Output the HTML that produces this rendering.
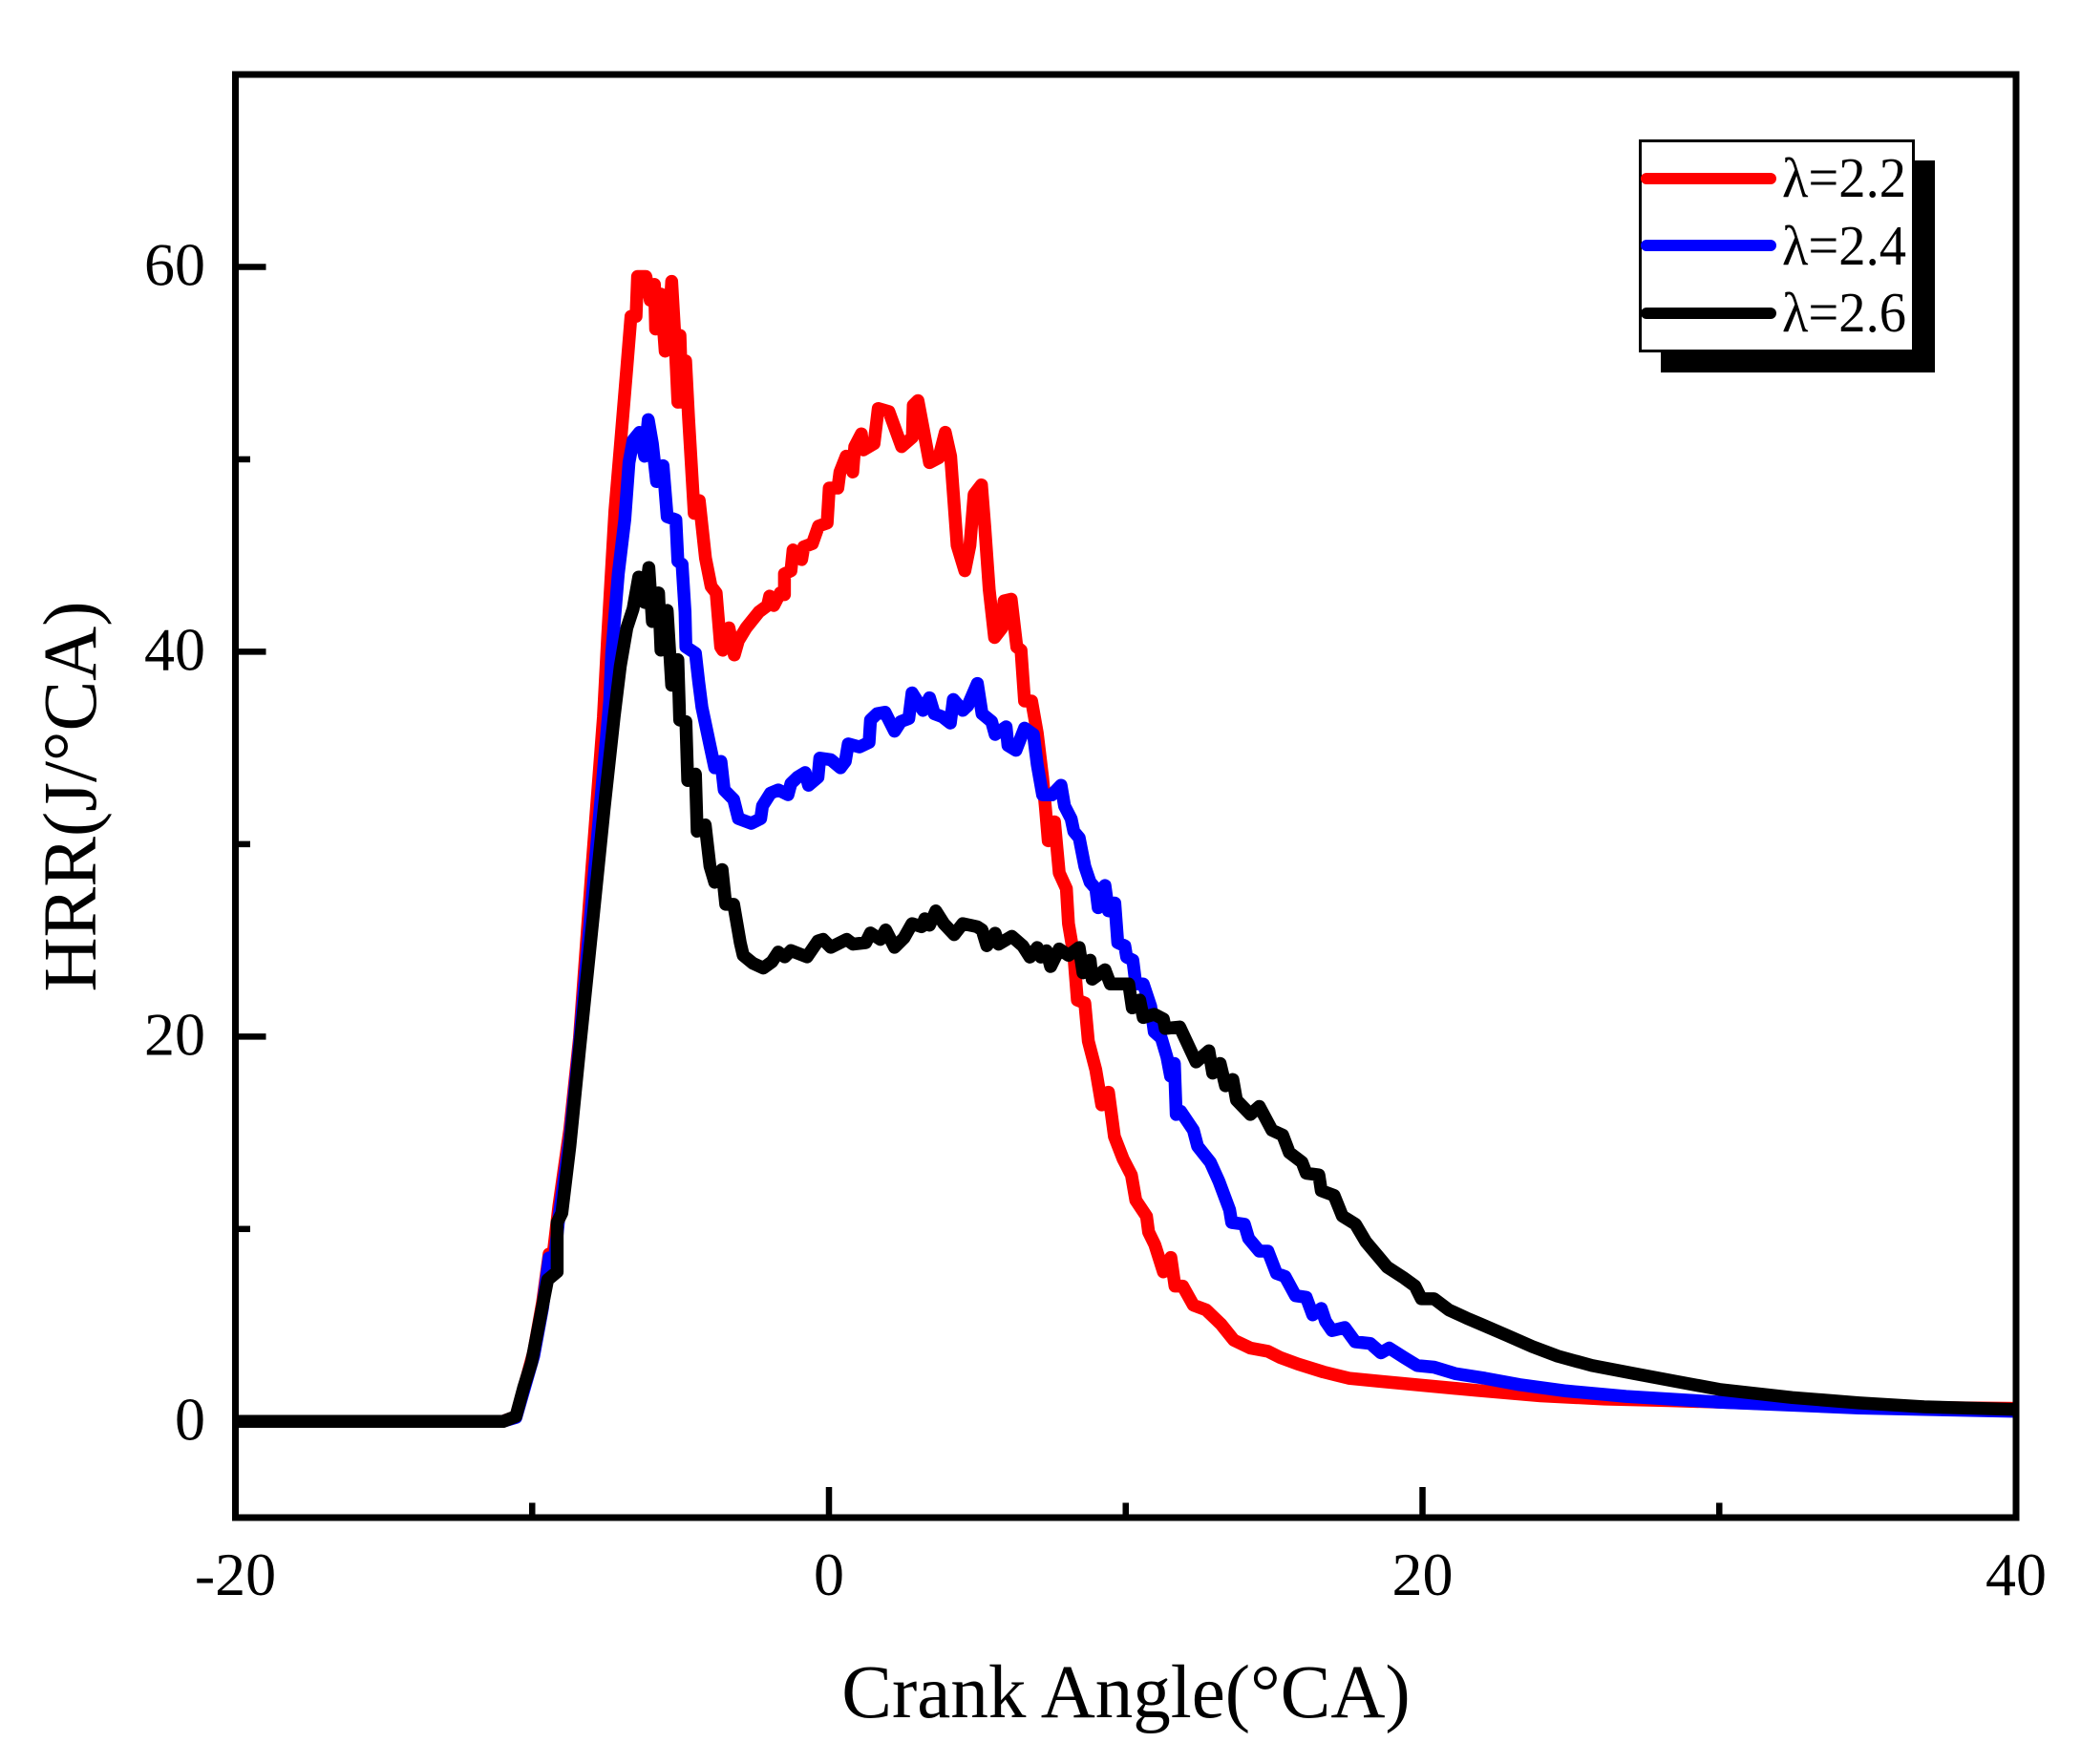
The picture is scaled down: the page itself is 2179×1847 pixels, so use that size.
<!DOCTYPE html>
<html lang="en">
<head>
<meta charset="utf-8">
<title>HRR vs Crank Angle</title>
<style>
html,body{margin:0;padding:0;background:#fff;}
svg{display:block;font-family:"Liberation Serif","DejaVu Serif",serif;}
</style>
</head>
<body>
<svg id="chart" xmlns="http://www.w3.org/2000/svg" width="2179" height="1847" viewBox="0 0 2179 1847">
  <rect x="0" y="0" width="2179" height="1847" fill="#fff"/>
  <g id="series"></g>
  <g id="ticks"></g>
  <rect x="246.5" y="78" width="1864.5" height="1511" fill="none" stroke="#000" stroke-width="7"/>
  <g id="labels" font-size="64" fill="#000"></g>
  <text x="1179" y="1798" font-size="79" text-anchor="middle">Crank Angle(°CA)</text>
  <text transform="translate(100,834) rotate(-90)" font-size="79" text-anchor="middle">HRR(J/°CA)</text>
  <g>
    <rect x="1739" y="168" width="287" height="222" fill="#000"/>
    <rect x="1717.5" y="147.5" width="286" height="220" fill="#fff" stroke="#000" stroke-width="3"/>
    <line x1="1724" y1="187" x2="1854" y2="187" stroke="#f00" stroke-width="12" stroke-linecap="round"/>
    <text x="1866" y="206" font-size="59" textLength="130" lengthAdjust="spacingAndGlyphs">λ=2.2</text>
    <line x1="1724" y1="257" x2="1854" y2="257" stroke="#00f" stroke-width="12" stroke-linecap="round"/>
    <text x="1866" y="277" font-size="59" textLength="130" lengthAdjust="spacingAndGlyphs">λ=2.4</text>
    <line x1="1724" y1="328" x2="1854" y2="328" stroke="#000" stroke-width="12" stroke-linecap="round"/>
    <text x="1866" y="347" font-size="59" textLength="130" lengthAdjust="spacingAndGlyphs">λ=2.6</text>
  </g>
</svg>
<script>
const xMajorTicks = [-20, 0, 20, 40];
const xMinorTicks = [-10, 10, 30];
const yMajorTicks = [0, 20, 40, 60];
const yMinorTicks = [10, 30, 50];
const xTickLabels = ["-20", "0", "20", "40"];
const yTickLabels = ["0", "20", "40", "60"];

const lambda22X = [-20,-11,-10.55,-10.25,-9.95,-9.65,-9.43,-9.3,-9.1,-8.73,-8.41,-8,-7.6,-7.46,-7.21,-7.03,-6.81,-6.67,-6.5,-6.45,-6.31,-6.17,-6.02,-5.88,-5.84,-5.66,-5.52,-5.4,-5.3,-5.2,-5.09,-5.02,-4.95,-4.83,-4.73,-4.54,-4.37,-4.16,-3.97,-3.8,-3.65,-3.58,-3.37,-3.19,-3.05,-2.79,-2.36,-2.07,-2,-1.86,-1.64,-1.5,-1.5,-1.28,-1.21,-0.92,-0.85,-0.56,-0.35,-0.06,0.01,0.3,0.37,0.58,0.8,0.87,1.09,1.16,1.52,1.66,2.02,2.45,2.81,2.84,3,3.17,3.39,3.7,3.92,4.1,4.32,4.58,4.75,4.89,5.14,5.25,5.4,5.58,5.83,5.9,6.14,6.33,6.47,6.59,6.83,7.02,7.2,7.3,7.39,7.6,7.76,8,8.07,8.25,8.37,8.62,8.74,8.99,9.19,9.42,9.62,9.91,10.19,10.34,10.7,10.77,10.98,11.27,11.52,11.66,11.92,12.28,12.71,13.21,13.64,14.2,14.79,15.22,15.8,16.66,17.52,18.67,20.39,21.83,23.98,26.14,28.29,30,34.7,40];
const lambda22Y = [0,0,0.25,1.9,3.6,6.2,8.7,8.6,11.2,15.2,19.9,28.5,36.6,40.74,47.35,50.66,54.79,57.43,57.43,59.5,59.5,59.5,58.26,59.09,56.77,58.59,55.62,56.44,59.25,56.61,52.97,56.44,52.97,55.12,52.15,47.19,47.85,44.87,43.39,43.06,40.25,40.08,41.24,39.83,40.58,41.24,42.07,42.4,42.89,42.4,43.06,42.97,44.05,44.21,45.29,44.79,45.45,45.62,46.53,46.69,48.51,48.51,49.34,50.16,49.34,50.66,51.32,50.49,50.82,52.64,52.48,50.66,51.15,52.81,53.05,51.65,49.83,50.08,51.4,50.16,45.53,44.21,45.53,48.18,48.67,46.53,43.22,40.74,41.24,42.64,42.73,40.25,40.08,37.44,37.44,35.78,33.47,31.82,30.17,31.16,28.51,27.69,25.87,24.22,21.9,21.74,19.76,18.27,16.45,17.11,14.8,13.64,12.8,11.49,10.66,9.84,9.18,7.77,8.52,7.03,7.03,6.04,5.79,5.05,4.22,3.81,3.64,3.31,2.98,2.57,2.24,2.07,1.82,1.61,1.33,1.16,1.08,1,0.75,0.68];

const lambda24X = [-20,-11,-10.55,-10.25,-9.95,-9.65,-9.43,-9.25,-9.1,-8.73,-8.41,-7.9,-7.39,-7.32,-7.1,-6.88,-6.74,-6.6,-6.38,-6.21,-6.09,-5.95,-5.81,-5.59,-5.45,-5.16,-5.09,-4.95,-4.85,-4.82,-4.5,-4.39,-4.28,-4.01,-3.85,-3.64,-3.53,-3.21,-3.05,-2.62,-2.3,-2.24,-1.97,-1.71,-1.38,-1.28,-1.06,-0.8,-0.69,-0.37,-0.31,0.06,0.39,0.55,0.65,1.03,1.35,1.4,1.62,1.89,2.21,2.42,2.69,2.8,3.17,3.39,3.55,3.82,4.09,4.19,4.51,4.68,5,5.16,5.48,5.6,5.97,6.03,6.3,6.59,6.89,7.02,7.2,7.51,7.82,7.94,8.16,8.25,8.43,8.62,8.8,8.99,9.07,9.3,9.42,9.63,9.73,9.97,10.03,10.24,10.34,10.59,10.84,10.96,11.2,11.39,11.51,11.64,11.7,11.85,12.28,12.42,12.85,13.14,13.5,13.57,14,14.14,14.5,14.79,15.08,15.37,15.72,16.08,16.3,16.59,16.73,16.95,17.38,17.73,18.24,18.6,18.88,19.39,19.82,20.39,21.11,22.1,23.27,24.84,26.86,30,34.7,40];
const lambda24Y = [0,0,0.2,1.8,3.4,5.9,8.5,8.4,10.6,14.7,19.6,28.6,37.44,39.9,44.05,46.86,49.83,50.99,51.4,50.16,52.06,50.82,48.84,49.67,47.02,46.86,44.71,44.54,42.07,40.25,39.92,38.43,37.11,35.13,33.97,34.3,32.82,32.32,31.33,31.08,31.33,31.99,32.65,32.82,32.57,33.15,33.48,33.72,33.06,33.48,34.47,34.39,33.97,34.3,35.21,35.05,35.29,36.45,36.78,36.86,35.87,36.37,36.53,37.86,36.95,37.61,36.78,36.62,36.29,37.52,36.95,37.2,38.35,36.78,36.37,35.7,36.1,35.13,34.88,36.03,35.7,34.13,32.56,32.56,33.06,31.98,31.32,30.66,30.33,28.84,28.02,27.69,26.7,27.85,26.53,26.94,24.88,24.71,24.13,23.97,22.73,22.73,21.57,20.25,19.92,18.93,17.94,18.6,15.95,16.12,15.13,14.3,13.47,12.48,11,10.34,10.25,9.51,8.85,8.85,7.69,7.53,6.53,6.45,5.54,5.87,5.21,4.72,4.88,4.14,4.05,3.56,3.81,3.31,2.9,2.82,2.48,2.24,1.91,1.58,1.3,1,0.7,0.52];

const lambda26X = [-20,-10.98,-10.55,-10.29,-10.02,-9.69,-9.48,-9.16,-9.16,-9,-8.73,-8.41,-7.9,-7.58,-7.24,-7.03,-6.81,-6.6,-6.41,-6.21,-6.07,-5.95,-5.74,-5.66,-5.45,-5.3,-5.09,-5.03,-4.82,-4.76,-4.5,-4.44,-4.17,-4.01,-3.85,-3.6,-3.48,-3.21,-2.99,-2.89,-2.56,-2.21,-1.92,-1.71,-1.49,-1.28,-0.74,-0.37,-0.2,0.06,0.6,0.81,1.24,1.4,1.73,1.91,2.21,2.53,2.8,3.12,3.23,3.39,3.6,3.87,4.22,4.51,4.99,5.16,5.32,5.48,5.6,5.72,6.16,6.53,6.77,7.02,7.14,7.33,7.47,7.76,8.07,8.43,8.56,8.8,8.87,9.3,9.48,10.1,10.22,10.47,10.59,10.96,11.27,11.33,11.82,12.37,12.8,12.93,13.18,13.36,13.61,13.73,14.2,14.5,14.93,15.29,15.51,15.94,16.08,16.51,16.59,17.02,17.3,17.74,18.09,18.45,18.81,19.39,19.75,19.96,20.39,20.89,21.47,21.97,22.84,23.7,24.56,25.71,27.14,28.58,30,32.46,34.7,36.9,40];
const lambda26Y = [0,0,0.26,1.74,3.07,5.71,7.36,7.77,10.34,10.83,14.3,19.26,26.9,31.8,36.6,39.25,41.24,42.23,43.88,42.56,44.38,41.57,43.06,40.08,42.15,38.26,39.59,36.45,36.37,33.31,33.64,30.67,31,28.85,28.02,28.68,26.87,26.87,24.88,24.22,23.81,23.56,23.89,24.39,24.14,24.47,24.14,24.97,25.05,24.64,25.05,24.8,24.88,25.38,25.05,25.54,24.64,25.13,25.87,25.71,26.12,25.79,26.53,25.87,25.3,25.87,25.71,25.54,24.72,25.05,25.37,24.8,25.21,24.71,24.13,24.63,24.13,24.46,23.64,24.55,24.22,24.63,23.31,23.97,22.98,23.47,22.73,22.73,21.49,21.9,20.99,21.16,20.91,20.42,20.5,18.68,19.26,18.1,18.6,17.44,17.77,16.7,15.95,16.37,15.13,14.88,13.97,13.47,12.9,12.81,11.99,11.74,10.67,10.25,9.34,8.68,8.02,7.44,7.03,6.37,6.37,5.79,5.38,5.05,4.47,3.89,3.39,2.9,2.48,2.07,1.66,1.24,0.96,0.76,0.62];

const xAxisMin = -20, xAxisMax = 40, yAxisMin = -5, yAxisMax = 70;
function xScale(v){ return 246.5 + (v - xAxisMin) * (2111 - 246.5) / (xAxisMax - xAxisMin); }
function yScale(v){ return 1589 - (v - yAxisMin) * (1589 - 78) / (yAxisMax - yAxisMin); }

const NS = 'http://www.w3.org/2000/svg';
const seriesGroup = document.getElementById('series');
const tickGroup = document.getElementById('ticks');
const labelGroup = document.getElementById('labels');

function drawSeries(xs, ys, color, name){
  const el = document.createElementNS(NS, 'path');
  
  
  el.setAttribute('d', xs.map(function(x, i){ return (i ? 'L' : 'M') + xScale(x).toFixed(1) + ' ' + yScale(ys[i]).toFixed(1); }).join(' '));
  el.setAttribute('fill', 'none');
  el.setAttribute('stroke', color);
  el.setAttribute('stroke-width', '13.5');
  el.setAttribute('stroke-linejoin', 'round');
  el.setAttribute('stroke-linecap', 'butt');
  seriesGroup.appendChild(el);
}
drawSeries(lambda22X, lambda22Y, '#f00', 'series-lambda-2-2');
drawSeries(lambda24X, lambda24Y, '#00f', 'series-lambda-2-4');
drawSeries(lambda26X, lambda26Y, '#000', 'series-lambda-2-6');

function drawXTick(v, len, name){
  const el = document.createElementNS(NS, 'line');
  
  
  el.setAttribute('x1', xScale(v)); el.setAttribute('x2', xScale(v));
  el.setAttribute('y1', 1589); el.setAttribute('y2', 1589 - len);
  el.setAttribute('stroke', '#000'); el.setAttribute('stroke-width', '6.5');
  tickGroup.appendChild(el);
}
function drawYTick(v, len, name){
  const el = document.createElementNS(NS, 'line');
  
  
  el.setAttribute('y1', yScale(v)); el.setAttribute('y2', yScale(v));
  el.setAttribute('x1', 246.5); el.setAttribute('x2', 246.5 + len);
  el.setAttribute('stroke', '#000'); el.setAttribute('stroke-width', '6.5');
  tickGroup.appendChild(el);
}
xMajorTicks.forEach(function(v){ drawXTick(v, 32, 'x-major-tick'); });
xMinorTicks.forEach(function(v){ drawXTick(v, 15.5, 'x-minor-tick'); });
yMajorTicks.forEach(function(v){ drawYTick(v, 32, 'y-major-tick'); });
yMinorTicks.forEach(function(v){ drawYTick(v, 15.5, 'y-minor-tick'); });

xMajorTicks.forEach(function(v, i){
  const el = document.createElementNS(NS, 'text');
  
  
  el.setAttribute('x', xScale(v));
  el.setAttribute('y', 1670);
  el.setAttribute('text-anchor', 'middle');
  el.textContent = xTickLabels[i];
  labelGroup.appendChild(el);
});
yMajorTicks.forEach(function(v, i){
  const el = document.createElementNS(NS, 'text');
  
  
  el.setAttribute('x', 215);
  el.setAttribute('y', yScale(v) + 19);
  el.setAttribute('text-anchor', 'end');
  el.textContent = yTickLabels[i];
  labelGroup.appendChild(el);
});
</script>
</body>
</html>
